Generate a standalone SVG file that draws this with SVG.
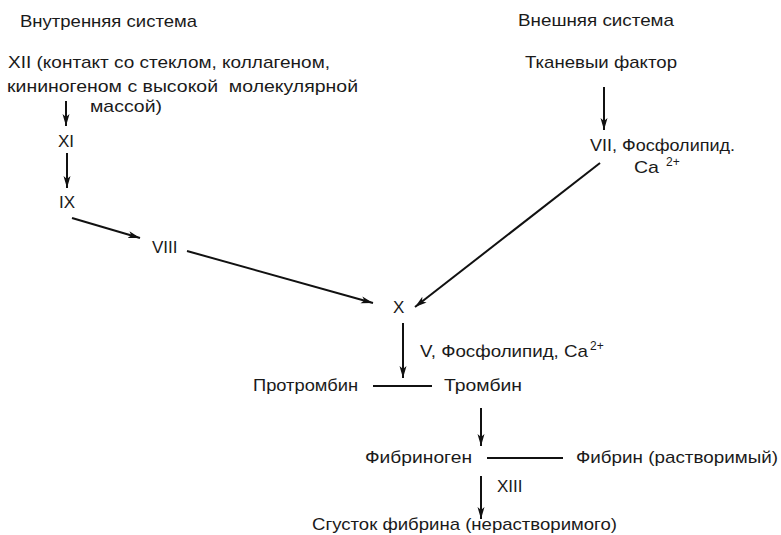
<svg xmlns="http://www.w3.org/2000/svg" width="781" height="535" viewBox="0 0 781 535">
<defs>
<marker id="ah" viewBox="0 0 12 10" refX="12" refY="5" markerWidth="12" markerHeight="10" markerUnits="userSpaceOnUse" orient="auto"><path d="M0,1.5 L12,5 L0,8.5 L3,5 Z" fill="#111"/></marker>
</defs>
<style>
text{font-family:"Liberation Sans",Arial,sans-serif;font-size:17px;fill:#1a1a1a}
.c{stroke:#111;stroke-width:2;fill:none}
.a{marker-end:url(#ah)}
.sup{font-size:12px}
</style>
<rect width="781" height="535" fill="#fff"/>
<g id="titles">
<text x="20" y="27" textLength="177" lengthAdjust="spacingAndGlyphs">Внутренняя система</text>
<text x="518" y="26" textLength="156" lengthAdjust="spacingAndGlyphs">Внешняя система</text>
</g>
<g id="n-XII">
<text x="8" y="68" textLength="322" lengthAdjust="spacingAndGlyphs">XII (контакт со стеклом, коллагеном,</text>
<text x="7" y="92" textLength="351" lengthAdjust="spacingAndGlyphs">кининогеном с высокой &#160;молекулярной</text>
<text x="90" y="112" textLength="72" lengthAdjust="spacingAndGlyphs">массой)</text>
</g>
<g id="n-XI"><text x="58" y="147">XI</text></g>
<g id="n-IX"><text x="59" y="208">IX</text></g>
<g id="n-VIII"><text x="152" y="253">VIII</text></g>
<g id="n-X"><text x="393" y="313">X</text></g>
<g id="n-TF"><text x="525" y="68" textLength="152" lengthAdjust="spacingAndGlyphs">Тканевыи фактор</text></g>
<g id="n-VII">
<text x="590" y="151" textLength="145" lengthAdjust="spacingAndGlyphs">VII, Фосфолипид.</text>
<text x="634" y="173" textLength="25" lengthAdjust="spacingAndGlyphs">Ca</text>
<text class="sup" x="666" y="166">2+</text>
</g>
<g id="n-V">
<text x="420" y="357" textLength="168" lengthAdjust="spacingAndGlyphs">V, Фосфолипид, Ca</text>
<text class="sup" x="590" y="350">2+</text>
</g>
<g id="n-prothrombin"><text x="253" y="391" textLength="105" lengthAdjust="spacingAndGlyphs">Протромбин</text></g>
<g id="n-thrombin"><text x="444" y="391" textLength="78" lengthAdjust="spacingAndGlyphs">Тромбин</text></g>
<g id="n-fibrinogen"><text x="365" y="463" textLength="107" lengthAdjust="spacingAndGlyphs">Фибриноген</text></g>
<g id="n-fibrin"><text x="576" y="463" textLength="202" lengthAdjust="spacingAndGlyphs">Фибрин (растворимый)</text></g>
<g id="n-XIII"><text x="497" y="492">XIII</text></g>
<g id="n-clot"><text x="312" y="530" textLength="305" lengthAdjust="spacingAndGlyphs">Сгусток фибрина (нерастворимого)</text></g>
<g id="connectors">
<line class="c a" x1="66" y1="101" x2="66" y2="126"/>
<line class="c a" x1="67" y1="153" x2="67" y2="188"/>
<line class="c a" x1="72" y1="218" x2="140" y2="238"/>
<line class="c a" x1="187" y1="251" x2="373" y2="303"/>
<line class="c a" x1="604" y1="87" x2="604" y2="130"/>
<line class="c a" x1="600" y1="163" x2="415" y2="307"/>
<line class="c a" x1="403" y1="323" x2="403" y2="378"/>
<line class="c" x1="373" y1="386" x2="432" y2="386"/>
<line class="c a" x1="481" y1="408" x2="481" y2="446"/>
<line class="c" x1="487" y1="458" x2="563" y2="458"/>
<line class="c a" x1="481" y1="476" x2="481" y2="519"/>
</g>
</svg>
